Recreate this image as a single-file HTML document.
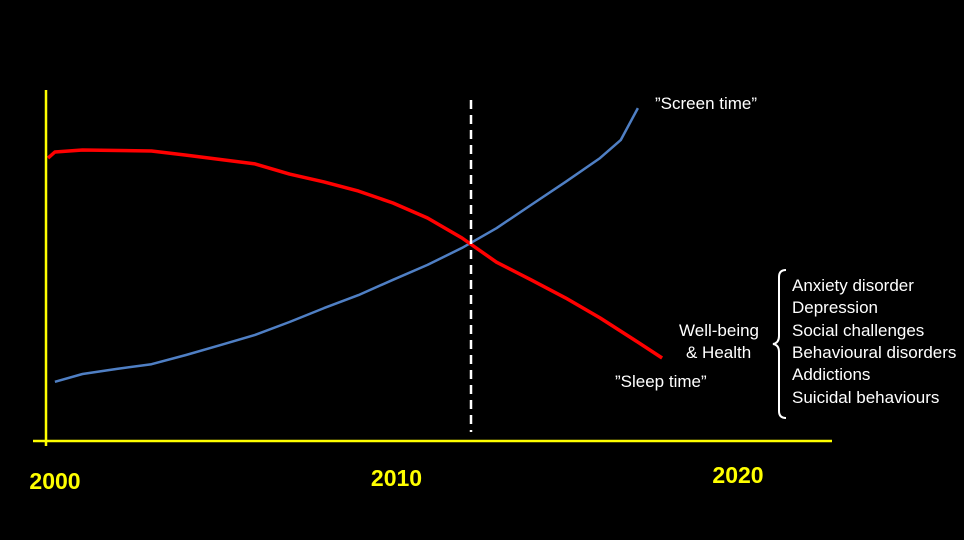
<!DOCTYPE html>
<html><head><meta charset="utf-8"><style>
html,body{margin:0;padding:0;background:#000;}
svg{display:block;font-family:"Liberation Sans",sans-serif;}
</style></head><body>
<svg id="chart" width="964" height="540" viewBox="0 0 964 540">
<rect width="964" height="540" fill="#000"/>
<g id="marks"></g>
<line x1="46" y1="90" x2="46" y2="446" stroke="#ffff00" stroke-width="2.5"/>
<line x1="33" y1="441" x2="832" y2="441" stroke="#ffff00" stroke-width="2.5"/>
<g id="ticks"></g>
<line x1="471" y1="100" x2="471" y2="432" stroke="#fff" stroke-width="2.5" stroke-dasharray="9,6"/>
<text x="655" y="109" fill="#fff" font-size="17">”Screen time”</text>
<text x="615" y="387" fill="#fff" font-size="17">”Sleep time”</text>
<text x="679" y="336" fill="#fff" font-size="17">Well-being</text>
<text x="686" y="358" fill="#fff" font-size="17">&amp; Health</text>
<path d="M786,270 Q779,270 779,277 L779,336 Q779,343 773,344 Q779,345 779,352 L779,411 Q779,418 786,418" fill="none" stroke="#fff" stroke-width="2"/>
<g fill="#fff" font-size="17">
<text x="792" y="291">Anxiety disorder</text>
<text x="792" y="313">Depression</text>
<text x="792" y="336">Social challenges</text>
<text x="792" y="358">Behavioural disorders</text>
<text x="792" y="380">Addictions</text>
<text x="792" y="403">Suicidal behaviours</text>
</g>
</svg>
<script>
const tickYears = [2000, 2010, 2020];
const tickLabels = ["2000", "2010", "2020"];
const sleepYears = [2000, 2000.2, 2001, 2003, 2004, 2006, 2007, 2008, 2009, 2010, 2011, 2012, 2013, 2014, 2015, 2016, 2017, 2017.8];
const sleepValues = [83.2, 85, 85.6, 85.3, 84.1, 81.5, 78.5, 76.2, 73.5, 70.0, 65.6, 59.7, 52.6, 47.4, 42.1, 36.2, 29.7, 24.4];
const screenYears = [2000.2, 2001, 2002, 2003, 2004, 2005, 2006, 2007, 2008, 2009, 2010, 2011, 2012, 2013, 2014, 2015, 2016, 2016.6, 2017.1];
const screenValues = [17.4, 19.7, 21.2, 22.6, 25.3, 28.2, 31.2, 35, 39.1, 42.9, 47.4, 51.8, 56.8, 62.6, 69.4, 76.2, 83.2, 88.5, 97.9];

const NS = "http://www.w3.org/2000/svg";
function xScale(y){ return 48 + (y - 2000) * 34.5; }
function yScale(v){ return 441 - v * 3.4; }
function tickScale(y){ return 55 + (y - 2000) * 34.15; }
const marks = document.getElementById("marks");
function drawLine(xs, vs, color, name){
  const p = document.createElementNS(NS, "path");
  
  
  p.setAttribute("d", xs.map((x,i)=>(i?"L":"M")+xScale(x).toFixed(1)+","+yScale(vs[i]).toFixed(1)).join(" "));
  p.setAttribute("fill","none");
  p.setAttribute("stroke",color);
  p.setAttribute("stroke-width", color==="#ff0000"?"3.5":"2.5");
  p.setAttribute("stroke-linejoin","round");
  marks.appendChild(p);
}
drawLine(screenYears, screenValues, "#4f7fc4", "screen-time-line");
drawLine(sleepYears, sleepValues, "#ff0000", "sleep-time-line");
const ticks = document.getElementById("ticks");
const tickBaseline = [489, 486, 483];
tickYears.forEach((t,i)=>{
  const tx = document.createElementNS(NS, "text");
  
  
  tx.setAttribute("x", tickScale(t));
  tx.setAttribute("y", tickBaseline[i]);
  tx.setAttribute("text-anchor","middle");
  tx.setAttribute("fill","#ffff00");
  tx.setAttribute("font-size","23");
  tx.setAttribute("font-weight","bold");
  tx.textContent = tickLabels[i];
  ticks.appendChild(tx);
});
</script>
</body></html>
